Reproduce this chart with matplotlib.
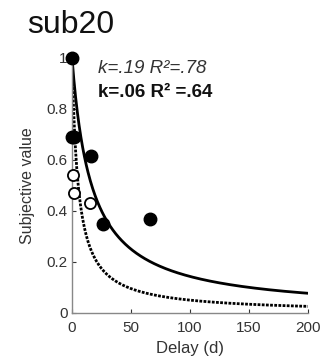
import numpy as np
import matplotlib
matplotlib.use("Agg")
import matplotlib.pyplot as plt

# data
filled_delay = [0, 0, 2, 16, 26, 66]
filled_value = [1.0, 0.69, 0.69, 0.615, 0.35, 0.37]
open_delay = [1, 2, 15]
open_value = [0.54, 0.47, 0.43]
k_solid = 0.06
k_dotted = 0.19
xticks = [0, 50, 100, 150, 200]
yticks = [0, 0.2, 0.4, 0.6, 0.8, 1]
yticklabels = ["0", "0.2", "0.4", "0.6", "0.8", "1"]

plt.rcParams['font.family'] = ['Liberation Sans', 'DejaVu Sans']

fig = plt.figure(figsize=(3.23, 3.58), dpi=100)
ax = fig.add_axes([0.223, 0.126, 0.731, 0.712])

d = np.linspace(0, 200, 400)
ax.plot(d, 1 / (1 + k_solid * d), color='black', lw=2.0, zorder=2)
ax.plot(d, 1 / (1 + k_dotted * d), color='black', lw=2.0, ls=(0, (1, 0.5)), zorder=2)

ax.plot(open_delay, open_value, 'o', mfc='white', mec='black', mew=1.3, ms=8, clip_on=False, zorder=3)
ax.plot(filled_delay, filled_value, 'o', color='black', ms=9, clip_on=False, zorder=4)

ax.set_xlim(0, 200)
ax.set_ylim(0, 1)
ax.set_xticks(xticks)
ax.set_yticks(yticks)
ax.set_yticklabels(yticklabels)
ax.tick_params(direction='in', length=3, labelsize=11, colors='#333333')
ax.tick_params(axis='x', pad=6)
ax.tick_params(axis='y', pad=3)
for s in ['top', 'right']:
    ax.spines[s].set_visible(False)
for s in ['left', 'bottom']:
    ax.spines[s].set_color('#888888')
    ax.spines[s].set_linewidth(1.0)

ax.set_xlabel('Delay (d)', fontsize=12, labelpad=4, color='#333333')
ax.set_ylabel('Subjective value', fontsize=11.5, color='#333333')
ax.yaxis.set_label_coords(-0.155, 0.5)

ax.text(0.11, 0.941, 'k=.19 R²=.78', transform=ax.transAxes, fontsize=13.5, style='italic', color='#333333', va='baseline')
ax.text(0.11, 0.847, 'k=.06 R² =.64', transform=ax.transAxes, fontsize=13.5, weight='bold', color='#111111', va='baseline')

fig.text(0.084, 0.908, 'sub20', fontsize=23, color='#111111', va='baseline')

fig.savefig('out.png', dpi=100)
